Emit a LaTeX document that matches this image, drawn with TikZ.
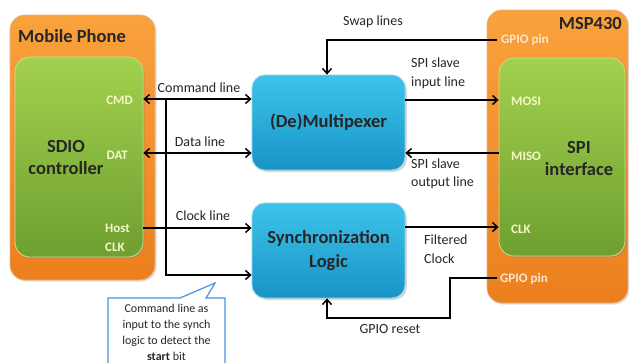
\documentclass[tikz,border=0pt]{standalone}
\usepackage{fontspec}
\setmainfont{Carlito}
\usetikzlibrary{arrows.meta,shadows}
\definecolor{orTop}{HTML}{F9A23C}
\definecolor{orBot}{HTML}{EC7F1E}
\definecolor{orEdge}{HTML}{E5B58A}
\definecolor{grTop}{HTML}{A2D14E}
\definecolor{grBot}{HTML}{6E9F30}
\definecolor{grEdge}{HTML}{C9E08E}
\definecolor{blTop}{HTML}{3DC3EA}
\definecolor{blBot}{HTML}{1894C6}
\definecolor{blEdge}{HTML}{8FD3EE}
\definecolor{pinG}{HTML}{F4F7C6}
\definecolor{pinO}{HTML}{FCE6CF}
\definecolor{callB}{HTML}{4A94DA}
\begin{document}
\begin{tikzpicture}[x=1pt,y=-1pt,
  orangebox/.style={rounded corners=15pt, top color=orTop, bottom color=orBot, draw=orEdge, line width=0.8pt, inner sep=0pt,
    drop shadow={shadow xshift=1.5pt, shadow yshift=-1.5pt, opacity=0.25}},
  greenbox/.style={rounded corners=15pt, top color=grTop, bottom color=grBot, draw=grEdge, line width=0.8pt, inner sep=0pt,
    drop shadow={shadow xshift=1.5pt, shadow yshift=-1.5pt, opacity=0.3}},
  bluebox/.style={rounded corners=13pt, top color=blTop, bottom color=blBot, draw=blEdge, line width=0.8pt, inner sep=0pt,
    align=center, font=\bfseries\fontsize{18.5}{24}\selectfont, text=black!85,
    drop shadow={shadow xshift=2pt, shadow yshift=-2pt, opacity=0.3}},
  title/.style={font=\bfseries\fontsize{18.5}{22}\selectfont, text=black!85, inner sep=0pt, align=center},
  lbl/.style={font=\fontsize{14}{18.5}\selectfont, text=black!85, inner sep=0pt, align=left},
  pinlbl/.style={font=\bfseries\fontsize{13}{19}\selectfont, text=pinG, inner sep=0pt, align=left},
  gpiolbl/.style={font=\bfseries\fontsize{13}{15}\selectfont, text=pinO, inner sep=0pt},
  conn/.style={line width=1.5pt, -{Straight Barb[length=5pt,width=9pt,line width=1.5pt]}},
  biconn/.style={line width=1.5pt, {Straight Barb[length=5pt,width=9pt,line width=1.5pt]}-{Straight Barb[length=5pt,width=9pt,line width=1.5pt]}},
  plain/.style={line width=1.5pt}
]
\useasboundingbox (0,0) rectangle (629,362);
\fill[white] (0,0) rectangle (629,362);

% boxes
\node[orangebox, minimum width=145pt, minimum height=265pt] (mp) at (82.5,147.5) {};
\node[greenbox, minimum width=128pt, minimum height=200pt] (sdio) at (79,157) {};
\node[orangebox, minimum width=141pt, minimum height=293pt] (msp) at (557.5,156.5) {};
\node[greenbox, minimum width=126pt, minimum height=198pt] (spi) at (562,157) {};
\node[bluebox, minimum width=153pt, minimum height=95pt] (demux) at (328.5,122.5) {(De)Multipexer};
\node[bluebox, minimum width=153pt, minimum height=95pt] (sync) at (328.5,250.5) {Synchronization\\Logic};

% titles in boxes
\node[title, anchor=west] (mptitle) at (18,36) {Mobile Phone};
\node[title, anchor=east] (msptitle) at (622,23) {MSP430};
\node[title] (sdiotxt) at (66,157) {\fontsize{18.5}{25}\selectfont SDIO\\controller};
\node[title] (spitxt) at (579,158) {\fontsize{18.5}{25}\selectfont SPI\\interface};

% pins
\node[pinlbl, anchor=east] (cmd) at (133,100) {CMD};
\node[pinlbl, anchor=east] (dat) at (128,155) {DAT};
\node[pinlbl, anchor=west] (hclk) at (105,237.5) {Host\\CLK};
\node[pinlbl, anchor=west] (mosi) at (511,101) {MOSI};
\node[pinlbl, anchor=west] (miso) at (511,156) {MISO};
\node[pinlbl, anchor=west] (sclk) at (511,229) {CLK};
\node[gpiolbl, anchor=west] (gpio1) at (501,40) {GPIO pin};
\node[gpiolbl, anchor=west] (gpio2) at (500,279) {GPIO pin};

% coordinates
\coordinate (cmdY) at (0,99);
\coordinate (datY) at (0,153);
\coordinate (clkY) at (0,228);
\coordinate (tapY) at (0,275);
\coordinate (tapX) at (166,0);
\coordinate (mosiY) at (0,100);
\coordinate (misoY) at (0,153);
\coordinate (fclkY) at (0,227);
\coordinate (swapX) at (327,0);
\coordinate (rstX) at (450,0);
\coordinate (rstY) at (0,318);
\coordinate (gp1) at (497,40);
\coordinate (gp2) at (497,278);

% left connections
\draw[biconn] (sdio.east |- cmdY) -- (demux.west |- cmdY);
\draw[biconn] (sdio.east |- datY) -- (demux.west |- datY);
\draw[conn] (sdio.east |- clkY) -- (sync.west |- clkY);
\draw[conn] (tapX |- cmdY) -- (tapX |- tapY) -- (sync.west |- tapY);

% right connections
\draw[conn] (demux.east |- mosiY) -- (spi.west |- mosiY);
\draw[conn] (spi.west |- misoY) -- (demux.east |- misoY);
\draw[conn] (sync.east |- fclkY) -- (spi.west |- fclkY);
\draw[conn] (gp1) -- (swapX |- gp1) -- (swapX |- demux.north);
\draw[conn] (gp2) -- (rstX |- gp2) -- (rstX |- rstY) -- (swapX |- rstY) -- (swapX |- sync.south);

% connector labels
\node[lbl] (l1) at (199,88) {Command line};
\node[lbl] (l2) at (200,142) {Data line};
\node[lbl] (l3) at (203,216) {Clock line};
\node[lbl] (l4) at (373,22) {Swap lines};
\node[lbl, anchor=west] (l5) at (411,73.5) {SPI slave\\input line};
\node[lbl, anchor=west] (l6) at (411,174) {SPI slave\\output line};
\node[lbl, anchor=west] (l7) at (424,249) {Filtered\\Clock};
\node[lbl] (l8) at (390,329) {GPIO reset};

% callout
\draw[callB, line width=1.2pt, fill=white] (108,375) -- (108,298) -- (180,298) -- (215,283) -- (206,298) -- (225,298) -- (225,375);
\node[font=\fontsize{12}{16}\selectfont, text=black!85, align=center, inner sep=0pt] (note) at (166.5,332) {Command line as\\input to the synch\\logic to detect the\\\textbf{start} bit};
\end{tikzpicture}
\end{document}
